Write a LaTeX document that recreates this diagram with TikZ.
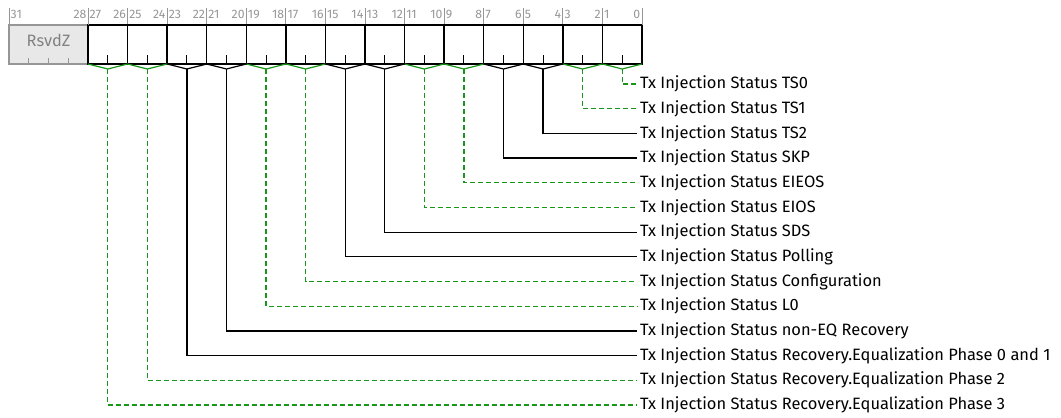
\documentclass[tikz,border=0pt]{standalone}
\usepackage{fontspec}
\setmainfont{Fira Sans}
\usetikzlibrary{calc}
\definecolor{grn}{RGB}{25,150,25}
\definecolor{bitgray}{RGB}{150,150,150}
\definecolor{rsvfill}{RGB}{232,232,232}
\definecolor{rsvtext}{RGB}{130,130,130}
\begin{document}
\begin{tikzpicture}[x=1bp,y=-1bp,
  field/.style={draw=black, line width=1.3bp, minimum width=39.57bp, minimum height=39bp, inner sep=0pt, outer sep=0pt, anchor=north west},
  rsvbox/.style={draw=bitgray, fill=rsvfill, line width=1.3bp, minimum width=79.14bp, minimum height=39bp, inner sep=0pt, outer sep=0pt, anchor=north west},
  bitnum/.style={text=bitgray, font=\fontsize{12.3}{13}\selectfont, inner sep=1.5pt},
  btick/.style={draw=bitgray, line width=0.8bp},
  lab/.style={anchor=west, inner xsep=3bp, inner ysep=0pt, font=\fontsize{16.5}{18}\selectfont},
  g/.style={draw=grn, line width=1.2bp},
  gd/.style={draw=grn, line width=1.3bp, dash pattern=on 5bp off 3bp},
  b/.style={draw=black, line width=1.2bp},
  bd/.style={draw=black, line width=1.2bp}
]
\useasboundingbox (0,0) rectangle (1061,417);
% reserved field
\node[rsvbox] (rsv) at (9,25) {};
\node[text=rsvtext, font=\fontsize{16.5}{17}\selectfont] (rsvlab) at ($(rsv.center)+(0,-4)$) {RsvdZ};
\foreach \i in {1,2,3} {
  \draw[btick] ($(rsv.south west)+(19.785*\i,0)$) -- ++(0,-6);
}
\draw[btick] (rsv.north west) -- ++(0,-17);
\node[bitnum, anchor=west] (b31) at ($(rsv.north west)+(0,-11)$) {31};
\node[bitnum, anchor=east] (b28) at ($(rsv.north east)+(0,-11)$) {28};
% fields
\foreach \k in {0,...,13} {
  \node[field] (f\k) at ({642-39.571*(\k+1)},25) {};
  \pgfmathtruncatemacro{\hi}{2*\k+1}
  \pgfmathtruncatemacro{\lo}{2*\k}
  \draw[btick] (f\k.north west) -- ++(0,-17);
  \node[bitnum, anchor=west] (h\k) at ($(f\k.north west)+(0,-11)$) {\hi};
  \node[bitnum, anchor=east] (l\k) at ($(f\k.north east)+(0,-11)$) {\lo};
  \draw[line width=1bp] (f\k.south) -- ++(0,-9);
}
\draw[btick] (f0.north east) -- ++(0,-17);
% connectors and labels
\foreach \k/\txt/\s/\sd in {
  0/TS0/g/gd, 1/TS1/g/gd, 2/TS2/b/bd, 3/SKP/b/bd, 4/EIEOS/g/gd, 5/EIOS/g/gd,
  6/SDS/b/bd, 7/Polling/b/bd, 8/Configuration/g/gd, 9/L0/g/gd,
  10/non-EQ Recovery/b/bd, 11/Recovery.Equalization Phase 0 and 1/b/bd,
  12/Recovery.Equalization Phase 2/g/gd, 13/Recovery.Equalization Phase 3/g/gd} {
  \pgfmathsetmacro{\ly}{84+24.69*\k}
  \node[lab] (t\k) at (637,\ly) {Tx Injection Status \txt};
  \coordinate (v\k) at ($(f\k.south)+(0,5)$);
  \draw[\s] (f\k.south west) -- (v\k) -- (f\k.south east);
  \draw[\sd] (v\k) |- (t\k.west);
}
\end{tikzpicture}
\end{document}
